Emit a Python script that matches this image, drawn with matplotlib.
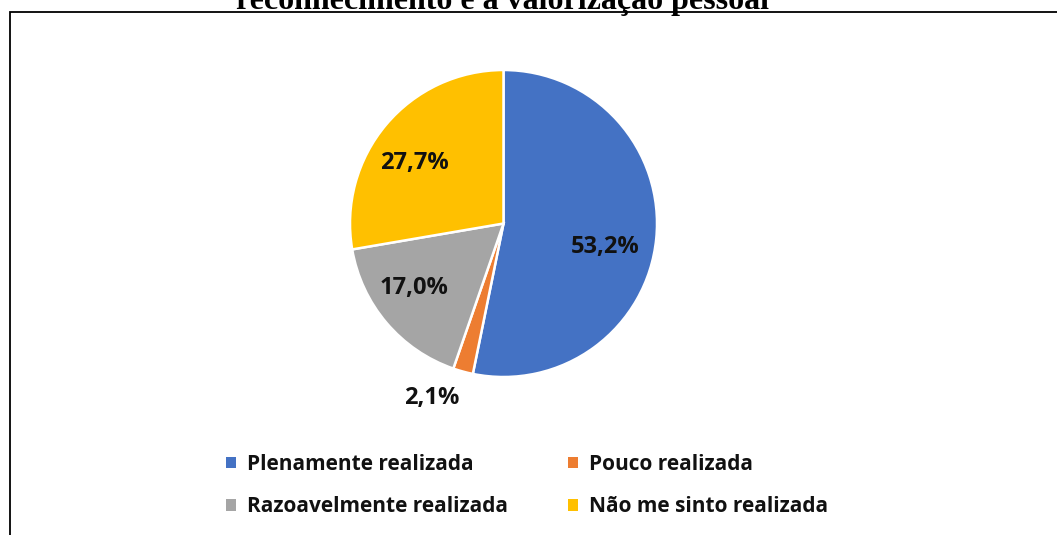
import matplotlib.pyplot as plt
import numpy as np
from matplotlib.patches import Patch, Rectangle

# Data
categories = ['Plenamente realizada', 'Pouco realizada',
              'Razoavelmente realizada', 'Não me sinto realizada']
values = [53.2, 2.1, 17.0, 27.7]
colors = ['#4472C4', '#ED7D31', '#A5A5A5', '#FFC000']
title = 'reconhecimento e a valorização pessoal'

# label layout: distance from centre (in radii) and angle shift from wedge middle
label_dist = [0.68, 1.23, 0.72, 0.70]
label_shift = [-7.5, -7.0, -4.6, 5.8]

W, H = 1057, 535
fig = plt.figure(figsize=(W / 100, H / 100), dpi=100)

# chart border (only top and left edges visible)
fig.patches.append(Rectangle((10 / W, -0.1), 1.2, 1 - 12 / H + 0.1,
                             transform=fig.transFigure, fill=False,
                             edgecolor='black', linewidth=1.3))

# title, cut off at the top
fig.text(503 / W, 1 - 9 / H, title, ha='center', va='baseline',
         fontsize=23, fontweight='bold', family='Liberation Serif')

# pie axes: centre (503.5, 223.5) px, radius 153.5 px
r = 153.5
ax = fig.add_axes([(503.5 - r) / W, (H - 223.5 - r) / H, 2 * r / W, 2 * r / H])
wedges, _ = ax.pie(values, colors=colors, startangle=90, counterclock=False,
                   wedgeprops=dict(edgecolor='white', linewidth=1.8))
ax.set_xlim(-1, 1)
ax.set_ylim(-1, 1)
ax.set_aspect('equal')
ax.axis('off')

for w, v, d, s in zip(wedges, values, label_dist, label_shift):
    ang = np.deg2rad((w.theta1 + w.theta2) / 2 + s)
    ax.text(d * np.cos(ang), d * np.sin(ang), f'{v:.1f}%'.replace('.', ','),
            ha='center', va='center', fontsize=17, fontweight='bold',
            family='Open Sans', color='#111111')

# legend filled row by row: Plenamente, Pouco / Razoavelmente, Não
order = [0, 2, 1, 3]
handles = [Patch(facecolor=colors[i], edgecolor='none') for i in order]
labels = [categories[i] for i in order]
leg = fig.legend(handles, labels, ncol=2, loc='center',
                 bbox_to_anchor=(527 / W, 1 - 485.5 / H), frameon=False,
                 prop=dict(family='Open Sans', weight='bold', size=15),
                 handlelength=0.48, handleheight=0.48, handletextpad=0.53,
                 columnspacing=2.85, labelspacing=1.02)
for t in leg.get_texts():
    t.set_color('#111111')

fig.savefig('out.png', dpi=100)
